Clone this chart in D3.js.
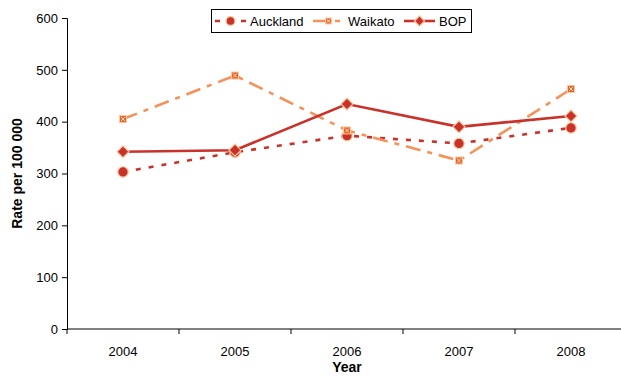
<!DOCTYPE html>
<html>
<head>
<meta charset="utf-8">
<script src="https://cdn.jsdelivr.net/npm/d3@7"></script>
<style>
  html, body { margin: 0; padding: 0; background: #fff; }
  svg { display: block; font-family: "Liberation Sans", Arial, sans-serif; }
</style>
</head>
<body>
<svg id="chart" width="621" height="376"></svg>
<script>
// Rate per 100 000 by region, 2004–2008
const years = ["2004", "2005", "2006", "2007", "2008"];
const auckland = [303, 341, 373, 358, 388];
const waikato = [405, 489, 383, 325, 463];
const bop = [342, 345, 434, 390, 411];
const yTicks = [0, 100, 200, 300, 400, 500, 600];

const series = [
  { name: "Auckland", values: auckland, color: "#C8322A", dash: "5,8", width: 2.6, marker: "circle" },
  { name: "Waikato", values: waikato, color: "#F7915A", dash: "15,7,5,7", width: 2.6, marker: "square" },
  { name: "BOP", values: bop, color: "#C8322A", dash: null, width: 2.6, marker: "diamond" }
];

const svg = d3.select("#chart");
const plotLeft = 67, plotRight = 627, plotTop = 18, plotBottom = 329;

const x = d3.scaleBand().domain(years).range([plotLeft, plotRight]).paddingInner(0).paddingOuter(0);
const y = d3.scaleLinear().domain([0, 600]).range([plotBottom, plotTop]);

// Y axis
const yAxis = svg.append("g")
  .attr("transform", `translate(${plotLeft},0)`)
  .call(d3.axisLeft(y).tickValues(yTicks).tickSize(5).tickPadding(4));
yAxis.select(".domain").attr("stroke", "#000").attr("stroke-width", 1);
yAxis.selectAll(".tick line").attr("stroke", "#000");
yAxis.selectAll("text").attr("font-size", 13).attr("fill", "#000");

// X axis with ticks at band boundaries
const xAxisG = svg.append("g").attr("transform", `translate(0,${plotBottom})`);
xAxisG.append("line").attr("x1", plotLeft).attr("x2", plotRight).attr("stroke", "#000");
xAxisG.selectAll("line.tk").data(years.concat([null])).enter().append("line")
  .attr("class", "tk")
  .attr("x1", (d, i) => plotLeft + i * x.bandwidth())
  .attr("x2", (d, i) => plotLeft + i * x.bandwidth())
  .attr("y1", 0).attr("y2", 5).attr("stroke", "#000");
xAxisG.selectAll("text").data(years).enter().append("text")
  .attr("x", d => x(d) + x.bandwidth() / 2)
  .attr("y", 27)
  .attr("text-anchor", "middle")
  .attr("font-size", 13)
  .text(d => d);

// Axis titles
svg.append("text").attr("x", x("2006") + x.bandwidth() / 2).attr("y", 372)
  .attr("text-anchor", "middle").attr("font-size", 14).attr("font-weight", "bold").text("Year");
svg.append("text").attr("transform", `translate(22,${(plotTop + plotBottom) / 2}) rotate(-90)`)
  .attr("text-anchor", "middle").attr("font-size", 14).attr("font-weight", "bold").text("Rate per 100 000");

const cx = d => x(d) + x.bandwidth() / 2;
const line = d3.line().x(d => cx(d.year)).y(d => y(d.value));

function drawMarker(g, type, color, px, py, k = 1) {
  const outline = "#FBC89A";
  if (type === "circle") {
    g.append("circle").attr("cx", px).attr("cy", py).attr("r", 5.2 * k)
      .attr("fill", color).attr("stroke", outline).attr("stroke-width", 1.2);
  } else if (type === "square") {
    const h = 3.5 * k;
    g.append("rect").attr("x", px - h).attr("y", py - h).attr("width", 2 * h).attr("height", 2 * h)
      .attr("fill", "#E8642E").attr("stroke", outline).attr("stroke-width", 1);
    const c = 2 * k;
    g.append("path").attr("d", `M${px - c},${py - c}L${px + c},${py + c}M${px + c},${py - c}L${px - c},${py + c}`)
      .attr("stroke", "#FDE0C0").attr("stroke-width", 1);
  } else {
    const r = 6 * k;
    g.append("path").attr("d", `M${px},${py - r}L${px + r},${py}L${px},${py + r}L${px - r},${py}Z`)
      .attr("fill", color).attr("stroke", outline).attr("stroke-width", 1.2);
  }
}

const plot = svg.append("g");
series.forEach(s => {
  const pts = years.map((yr, i) => ({ year: yr, value: s.values[i] }));
  plot.append("path").datum(pts).attr("d", line)
    .attr("fill", "none").attr("stroke", s.color).attr("stroke-width", s.width)
    .attr("stroke-dasharray", s.dash);
  const mg = plot.append("g");
  pts.forEach(p => drawMarker(mg, s.marker, s.color, cx(p.year), y(p.value)));
});

// Legend
const lg = svg.append("g");
lg.append("rect").attr("x", 211.5).attr("y", 9.5).attr("width", 260).attr("height", 23)
  .attr("fill", "#fff").attr("stroke", "#000").attr("stroke-width", 1);
const legendItems = [
  { s: series[0], x0: 215, tx: 250 },
  { s: series[1], x0: 313, tx: 348 },
  { s: series[2], x0: 404, tx: 439 }
];
legendItems.forEach(it => {
  const ly = 21;
  lg.append("line").attr("x1", it.x0).attr("x2", it.x0 + 31).attr("y1", ly).attr("y2", ly)
    .attr("stroke", it.s.color).attr("stroke-width", it.s.width)
    .attr("stroke-dasharray", it.s.dash);
  drawMarker(lg, it.s.marker, it.s.color, it.x0 + 15.5, ly, 0.85);
  lg.append("text").attr("x", it.tx).attr("y", ly + 5).attr("font-size", 13).text(it.s.name);
});
</script>
</body>
</html>
